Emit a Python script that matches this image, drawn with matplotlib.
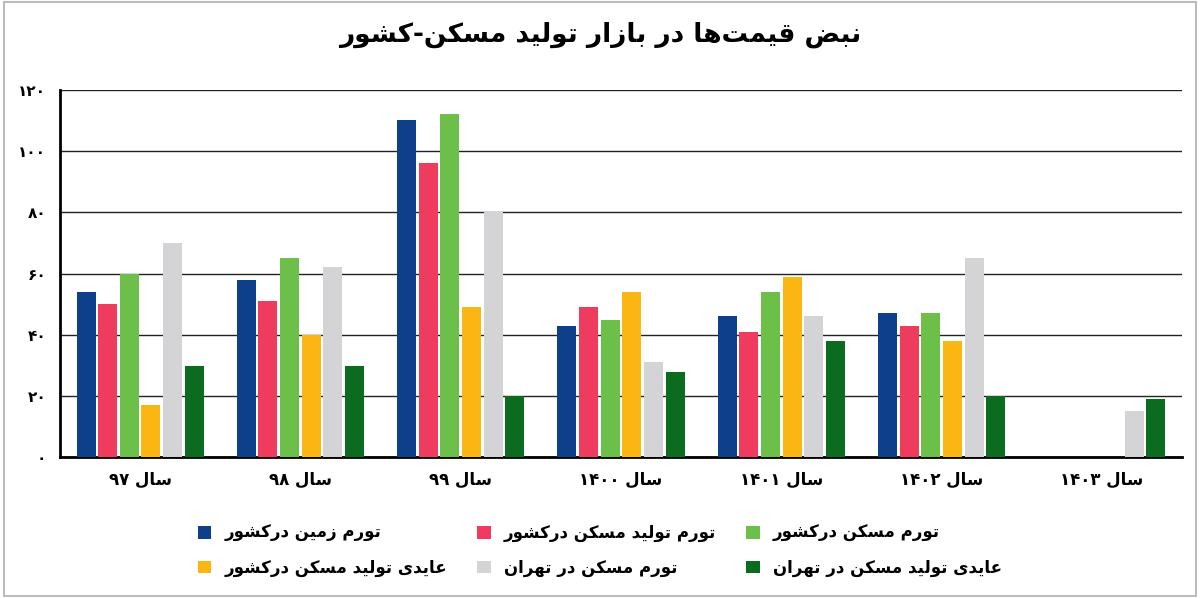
import numpy as np
import matplotlib.pyplot as plt

# minimal arabic/persian shaping (matplotlib has no shaper)
FORMS = {
    'ا': ('\uFE8D', '\uFE8E'), 'د': ('\uFEA9', '\uFEAA'), 'ر': ('\uFEAD', '\uFEAE'),
    'ز': ('\uFEAF', '\uFEB0'), 'و': ('\uFEED', '\uFEEE'),
    'ب': ('\uFE8F', '\uFE90', '\uFE91', '\uFE92'), 'ت': ('\uFE95', '\uFE96', '\uFE97', '\uFE98'),
    'س': ('\uFEB1', '\uFEB2', '\uFEB3', '\uFEB4'), 'ش': ('\uFEB5', '\uFEB6', '\uFEB7', '\uFEB8'),
    'ض': ('\uFEBD', '\uFEBE', '\uFEBF', '\uFEC0'), 'ع': ('\uFEC9', '\uFECA', '\uFECB', '\uFECC'),
    'ق': ('\uFED5', '\uFED6', '\uFED7', '\uFED8'), 'ل': ('\uFEDD', '\uFEDE', '\uFEDF', '\uFEE0'),
    'م': ('\uFEE1', '\uFEE2', '\uFEE3', '\uFEE4'), 'ن': ('\uFEE5', '\uFEE6', '\uFEE7', '\uFEE8'),
    'ه': ('\uFEE9', '\uFEEA', '\uFEEB', '\uFEEC'), 'ی': ('\uFBFC', '\uFBFD', '\uFBFE', '\uFBFF'),
    'ک': ('\uFB8E', '\uFB8F', '\uFB90', '\uFB91'),
}

def fa(s):
    out = []
    for i, c in enumerate(s):
        if c not in FORMS:
            if c != '\u200c':
                out.append(c)
            continue
        f = FORMS[c]
        prev = s[i - 1] if i > 0 else ''
        nxt = s[i + 1] if i + 1 < len(s) else ''
        jp = prev in FORMS and len(FORMS[prev]) == 4
        jn = len(f) == 4 and nxt in FORMS
        if jp and jn:
            out.append(f[3])
        elif jp:
            out.append(f[1])
        elif jn:
            out.append(f[2])
        else:
            out.append(f[0])
    # visual order: reverse, but keep digit runs LTR
    runs, cur = [], ''
    for c in out:
        if c.isdigit():
            cur += c
        else:
            if cur:
                runs.append(cur); cur = ''
            runs.append(c)
    if cur:
        runs.append(cur)
    return ''.join(runs[::-1])

def fanum(n):
    return str(n).translate(str.maketrans('0123456789', '۰۱۲۳۴۵۶۷۸۹'))

years = ['۹۷', '۹۸', '۹۹', '۱۴۰۰', '۱۴۰۱', '۱۴۰۲', '۱۴۰۳']
series = ['تورم زمین درکشور', 'تورم تولید مسکن درکشور', 'تورم مسکن درکشور',
          'عایدی تولید مسکن درکشور', 'تورم مسکن در تهران', 'عایدی تولید مسکن در تهران']
colors = ['#0d3f8a', '#ef3b5d', '#6cc04a', '#fbb613', '#d4d4d6', '#0b6b1e']
land = [54, 58, 110, 43, 46, 47, 0]
build = [50, 51, 96, 49, 41, 43, 0]
housing = [60, 65, 112, 45, 54, 47, 0]
yield_country = [17, 40, 49, 54, 59, 38, 0]
housing_tehran = [70, 62, 80, 31, 46, 65, 15]
yield_tehran = [30, 30, 20, 28, 38, 20, 19]
values = [land, build, housing, yield_country, housing_tehran, yield_tehran]

fig = plt.figure(figsize=(12, 5.98), dpi=100)
ax = fig.add_axes([0.05, 0.235, 0.935, 0.615])
x = np.arange(len(years))
w = 0.135
handles = []
for k, (vals, col) in enumerate(zip(values, colors)):
    b = ax.bar(x + (k - 2.5) * w, vals, w * 0.88, color=col, zorder=3)
    handles.append(b)

ax.set_xlim(-0.5, len(years) - 0.5)
ax.set_ylim(0, 120)
ax.set_yticks(range(0, 121, 20))
ax.set_yticklabels([fanum(v) for v in range(0, 121, 20)], fontsize=11, fontweight='bold')
ax.set_xticks(x)
ax.set_xticklabels([fa('سال ' + y) for y in years], fontsize=12, fontweight='bold')
ax.grid(axis='y', color='#222222', linewidth=1, zorder=0)
for s in ['top', 'right']:
    ax.spines[s].set_visible(False)
ax.spines['left'].set_linewidth(2)
ax.spines['bottom'].set_linewidth(2)
ax.tick_params(length=0, pad=10)

order = [0, 3, 1, 4, 2, 5]
fig.legend([handles[i] for i in order], [fa(series[i]) for i in order], ncol=3,
           loc='lower center', bbox_to_anchor=(0.5, 0.01), frameon=False,
           prop={'size': 12, 'weight': 'bold'}, columnspacing=1.8, handlelength=0.8,
           handleheight=0.8, labelspacing=1.0)

fig.text(0.5, 0.93, fa('نبض قیمت‌ها در بازار تولید مسکن-کشور'), ha='center',
         fontsize=19, fontweight='bold')
fig.patches.append(plt.Rectangle((0.003, 0.003), 0.994, 0.994, transform=fig.transFigure,
                                 fill=False, edgecolor='#bbbbbb', linewidth=1.5))
fig.savefig('out.png')
